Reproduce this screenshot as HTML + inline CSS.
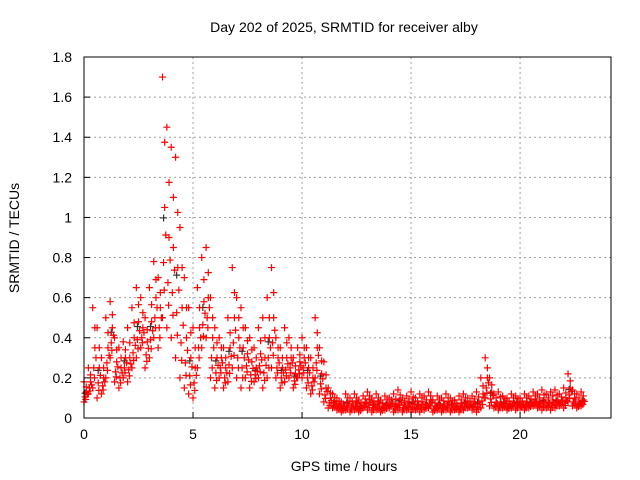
<!DOCTYPE html>
<html><head><meta charset="utf-8"><style>
html,body{margin:0;padding:0;background:#fff;}
svg{display:block;font-family:"Liberation Sans",sans-serif;}
</style></head><body>
<svg id="chart" width="640" height="480" viewBox="0 0 640 480">
<text x="344" y="32" text-anchor="middle" font-size="14" fill="#000">Day 202 of 2025, SRMTID for receiver alby</text>
<text x="344" y="471" text-anchor="middle" font-size="14" fill="#000">GPS time / hours</text>
<text transform="translate(19,238) rotate(-90)" text-anchor="middle" font-size="14" fill="#000">SRMTID / TECUs</text>
<g id="grid"></g><g id="marks"></g><g id="axes"></g>
</svg>
<script>
const xTicks=[0,5,10,15,20];
const yTicks=[0,0.2,0.4,0.6,0.8,1,1.2,1.4,1.6,1.8];
const yTickLabels=["0","0.2","0.4","0.6","0.8","1","1.2","1.4","1.6","1.8"];
const times=[0,0.2,0.4,0.6,0.8,1,1.2,1.4,1.6,1.8,2,2.2,2.4,2.6,2.8,3,
3.2,3.4,3.6,3.8,4,4.2,4.4,4.6,4.8,5,5.2,5.4,5.6,5.8,6,
6.2,6.4,6.6,6.8,7,7.2,7.4,7.6,7.8,8,8.2,8.4,8.6,8.8,9,
9.2,9.4,9.6,9.8,10,10.2,10.4,10.6,10.8,11,11.2,11.4,11.6,11.8,12,
12.2,12.4,12.6,12.8,13,13.2,13.4,13.6,13.8,14,14.2,14.4,14.6,14.8,15,
15.2,15.4,15.6,15.8,16,16.2,16.4,16.6,16.8,17,17.2,17.4,17.6,17.8,18,
18.2,18.4,18.6,18.8,19,19.2,19.4,19.6,19.8,20,20.2,20.4,20.6,20.8,21,
21.2,21.4,21.6,21.8,22,22.2,22.4,22.6,22.8];
const hiValues=[.18,.25,.55,.45,.30,.50,.58,.40,.35,.38,.45,.55,.65,.60,.50,.65,
.78,.70,1.70,1.45,1.35,1.30,.95,.70,.55,.45,.65,.80,.85,.60,.45,
.40,.35,.50,.75,.60,.55,.45,.40,.35,.45,.50,.60,.75,.40,.35,
.45,.40,.30,.35,.40,.35,.30,.50,.35,.28,.15,.12,.10,.08,.12,
.10,.12,.09,.11,.13,.10,.12,.09,.11,.10,.12,.14,.10,.11,.13,
.10,.12,.11,.13,.09,.11,.10,.12,.10,.09,.11,.12,.10,.11,.13,
.20,.30,.20,.12,.13,.11,.10,.12,.11,.10,.12,.11,.13,.12,.14,
.12,.13,.14,.12,.15,.22,.14,.12,.13];
const midValues=[.13,.18,.35,.25,.20,.35,.45,.28,.25,.30,.30,.40,.48,.45,.38,.48,
.60,.55,1.05,.90,.85,.75,.55,.40,.30,.25,.45,.58,.60,.40,.30,
.30,.25,.35,.50,.40,.35,.32,.28,.25,.32,.30,.40,.50,.30,.25,
.30,.30,.22,.28,.30,.25,.20,.35,.22,.15,.10,.08,.07,.06,.08,
.07,.08,.06,.08,.09,.07,.08,.06,.07,.08,.07,.09,.07,.08,.08,
.07,.08,.07,.09,.06,.07,.07,.08,.07,.06,.07,.08,.07,.08,.08,
.12,.20,.13,.08,.08,.08,.07,.08,.08,.07,.08,.08,.09,.08,.09,
.08,.09,.09,.09,.10,.15,.10,.08,.09];
const loValues=[.08,.12,.15,.10,.12,.20,.30,.18,.15,.20,.18,.25,.30,.35,.25,.30,
.40,.35,.50,.45,.40,.30,.20,.15,.12,.10,.25,.35,.40,.20,.15,
.20,.15,.18,.25,.20,.15,.20,.15,.18,.20,.15,.20,.25,.20,.15,
.18,.20,.15,.20,.20,.15,.12,.20,.12,.08,.05,.05,.04,.03,.04,
.03,.04,.03,.05,.04,.03,.04,.03,.04,.05,.03,.04,.03,.04,.03,
.04,.03,.04,.05,.03,.04,.03,.04,.03,.04,.03,.04,.05,.04,.03,
.05,.10,.06,.05,.04,.05,.04,.05,.04,.05,.04,.05,.06,.05,.04,
.05,.04,.05,.06,.05,.08,.06,.05,.06];

const L=84,R=611,T=57,B=418,XMAX=24.17,YMAX=1.8;
const xs=v=>L+(R-L)*v/XMAX;
const ys=v=>B-(B-T)*v/YMAX;
const NS="http://www.w3.org/2000/svg";
function mk(tag,parent,attrs){const e=document.createElementNS(NS,tag);for(const k in attrs)e.setAttribute(k,attrs[k]);parent.appendChild(e);return e;}
const grid=document.getElementById('grid'),axes=document.getElementById('axes'),marks=document.getElementById('marks');
xTicks.forEach((t,i)=>{
 const x=xs(t);
 if(t>0){const g=mk('line',grid,{x1:x,x2:x,y1:T,y2:B,stroke:'#a0a0a0','stroke-dasharray':'2,3'});
 
 }
 const tk=mk('line',axes,{x1:x,x2:x,y1:B,y2:B-6,stroke:'#000'});
 
 
 const tl=mk('text',axes,{x:x,y:B+21,'text-anchor':'middle','font-size':'14'});
 tl.textContent=String(t);
 
 
});
yTicks.forEach((t,i)=>{
 const y=ys(t);
 if(t>0&&t<YMAX){const g=mk('line',grid,{x1:L,x2:R,y1:y,y2:y,stroke:'#a0a0a0','stroke-dasharray':'2,3'});
 
 }
 const tk=mk('line',axes,{x1:L,x2:L+6,y1:y,y2:y,stroke:'#000'});
 
 
 const tl=mk('text',axes,{x:L-12,y:y+5,'text-anchor':'end','font-size':'14'});
 tl.textContent=yTickLabels[i];
 
 
});
const box=mk('rect',axes,{x:L,y:T,width:R-L,height:B-T,fill:'none',stroke:'#000'});


function plus(t,v,color,name){
 const x=xs(t),y=ys(v);
 const p=mk('path',marks,{d:`M${x-3.5},${y}H${x+3.5}M${x},${y-3.5}V${y+3.5}`,stroke:color,'stroke-width':'1.2',fill:'none'});
 
 
}
times.forEach((t,i)=>{
 if(i%3===0) plus(t+0.05,midValues[i]*0.95,'#333','black-point');
});
times.forEach((t,i)=>{
 plus(t,hiValues[i],'#ff0000','red-point');
 plus(t+0.1,midValues[i],'#ff0000','red-point');
 plus(t,loValues[i],'#ff0000','red-point');
 plus(t+0.1,(hiValues[i]+midValues[i])/2,'#ff0000','red-point');
 plus(t+0.05,(midValues[i]+loValues[i])/2,'#ff0000','red-point');
 plus(t+0.15,(3*midValues[i]+loValues[i])/4,'#ff0000','red-point');
 plus(t+0.08,(3*loValues[i]+midValues[i])/4,'#ff0000','red-point');
});
</script>
</body></html>
